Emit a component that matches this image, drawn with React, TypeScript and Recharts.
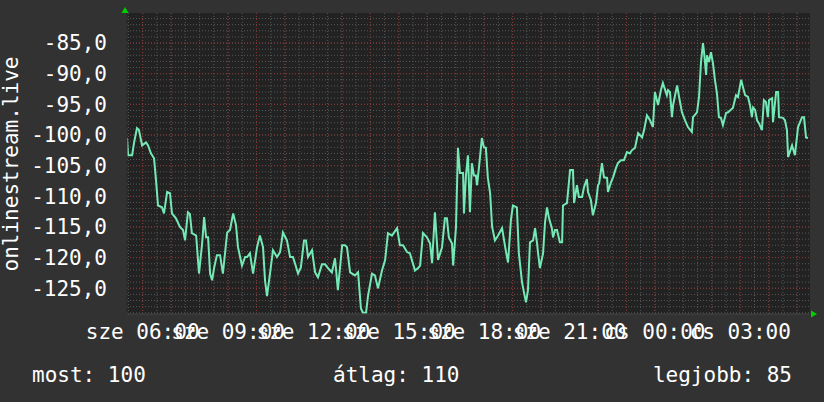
import { LineChart, Line, XAxis, YAxis, CartesianGrid } from "recharts";

// signal level over ~24h (hours from midnight of day 1, >24 = next day)
const hours = [
  5.45, 5.49, 5.63, 5.70, 5.80, 5.87, 5.98, 6.12, 6.19, 6.29,
  6.40, 6.47, 6.54, 6.68, 6.75, 6.86, 6.96, 7.03, 7.17, 7.31,
  7.42, 7.49, 7.59, 7.66, 7.73, 7.88, 7.98, 8.09, 8.16, 8.23,
  8.30, 8.37, 8.44, 8.51, 8.61, 8.72, 8.82, 8.97, 9.07, 9.18,
  9.28, 9.35, 9.49, 9.60, 9.67, 9.77, 9.88, 10.02, 10.12, 10.23,
  10.30, 10.37, 10.48, 10.58, 10.72, 10.83, 10.93, 11.07, 11.18, 11.28,
  11.35, 11.46, 11.56, 11.67, 11.74, 11.81, 11.95, 12.06, 12.16, 12.30,
  12.41, 12.51, 12.65, 12.76, 12.86, 13.01, 13.11, 13.18, 13.29, 13.46,
  13.57, 13.67, 13.74, 13.85, 13.92, 14.06, 14.16, 14.27, 14.41, 14.52,
  14.62, 14.76, 14.94, 15.04, 15.15, 15.29, 15.39, 15.57, 15.68, 15.75,
  15.85, 15.99, 16.10, 16.17, 16.27, 16.38, 16.52, 16.62, 16.69, 16.76,
  16.87, 16.91, 17.01, 17.08, 17.15, 17.26, 17.29, 17.36, 17.43, 17.50,
  17.57, 17.64, 17.71, 17.75, 17.82, 17.92, 17.99, 18.06, 18.13, 18.21,
  18.28, 18.38, 18.49, 18.63, 18.70, 18.77, 18.84, 18.94, 19.01, 19.15,
  19.22, 19.33, 19.40, 19.47, 19.54, 19.61, 19.72, 19.79, 19.86, 19.89,
  19.96, 20.07, 20.14, 20.21, 20.28, 20.38, 20.42, 20.49, 20.56, 20.66,
  20.74, 20.77, 20.91, 21.02, 21.12, 21.16, 21.26, 21.33, 21.44, 21.51,
  21.61, 21.65, 21.75, 21.82, 21.93, 22.00, 22.04, 22.14, 22.21, 22.32,
  22.35, 22.46, 22.53, 22.63, 22.70, 22.81, 22.91, 23.02, 23.12, 23.19,
  23.30, 23.41, 23.55, 23.62, 23.72, 23.83, 23.93, 24.00, 24.11, 24.21,
  24.28, 24.42, 24.46, 24.53, 24.60, 24.64, 24.78, 24.85, 24.95, 25.06,
  25.16, 25.30, 25.34, 25.48, 25.55, 25.62, 25.69, 25.73, 25.80, 25.83,
  25.90, 25.97, 26.04, 26.11, 26.18, 26.25, 26.32, 26.39, 26.50, 26.57,
  26.67, 26.74, 26.85, 26.92, 27.03, 27.10, 27.17, 27.27, 27.34, 27.41,
  27.45, 27.52, 27.59, 27.66, 27.76, 27.83, 27.90, 27.97, 28.01, 28.12,
  28.15, 28.26, 28.33, 28.36, 28.50, 28.57, 28.64, 28.68, 28.82, 28.92,
  29.03, 29.17, 29.24, 29.31, 29.38,
];

const signal = [
  -100.5, -103.3, -103.3, -101.2, -98.9, -99.2, -101.7, -101.2, -101.7, -103.0,
  -103.8, -107.4, -111.5, -111.8, -112.8, -109.3, -109.5, -112.8, -113.6, -115.0,
  -115.5, -117.2, -112.6, -112.9, -116.0, -116.4, -122.6, -117.7, -113.4, -116.7,
  -116.7, -122.6, -123.7, -121.7, -119.6, -119.6, -122.6, -115.9, -115.5, -112.8,
  -114.7, -118.3, -121.3, -119.9, -119.9, -119.3, -122.6, -118.3, -116.4, -118.3,
  -123.7, -126.3, -122.4, -118.8, -119.9, -119.1, -115.9, -117.2, -119.9, -119.9,
  -120.9, -122.6, -121.6, -117.2, -117.2, -119.9, -118.8, -122.4, -123.2, -121.1,
  -121.1, -121.7, -122.4, -120.1, -125.3, -118.0, -118.0, -118.3, -122.4, -122.9,
  -122.4, -128.3, -129.0, -129.0, -126.2, -122.6, -122.9, -125.0, -122.1, -120.4,
  -116.0, -116.4, -115.2, -118.0, -118.0, -119.1, -119.3, -122.1, -121.7, -121.3,
  -116.0, -116.7, -117.7, -120.9, -112.6, -120.4, -118.3, -113.6, -113.6, -116.7,
  -117.7, -121.3, -115.0, -102.1, -106.2, -106.2, -112.8, -106.6, -103.3, -112.6,
  -104.6, -106.6, -106.6, -108.2, -105.2, -100.5, -102.0, -102.1, -107.0, -109.5,
  -115.0, -117.2, -116.4, -115.2, -117.2, -119.1, -120.8, -113.9, -111.5, -111.8,
  -119.3, -124.0, -125.7, -127.3, -125.3, -117.5, -117.2, -115.2, -117.7, -119.1,
  -121.7, -119.3, -114.2, -111.8, -113.6, -115.2, -116.7, -115.5, -115.5, -117.5,
  -117.5, -111.5, -111.1, -105.7, -105.7, -111.1, -108.2, -110.1, -110.1, -108.5,
  -107.2, -109.3, -110.6, -113.1, -111.1, -108.2, -107.9, -104.6, -106.9, -107.0,
  -109.3, -107.7, -106.9, -105.4, -104.6, -104.1, -104.1, -102.8, -103.0, -102.5,
  -102.1, -99.7, -100.4, -99.2, -96.8, -97.6, -98.7, -93.0, -95.1, -92.7,
  -91.5, -93.5, -92.7, -93.0, -97.1, -95.1, -91.9, -93.8, -96.3, -97.6,
  -98.7, -99.5, -97.1, -96.3, -93.8, -88.1, -85.0, -86.6, -90.2, -87.0,
  -88.1, -86.5, -88.3, -91.0, -93.2, -97.1, -97.2, -98.4, -96.4, -96.3,
  -95.9, -95.6, -93.5, -93.8, -91.0, -92.3, -93.5, -93.8, -95.1, -97.1,
  -95.5, -95.9, -97.6, -98.1, -99.2, -94.3, -94.6, -97.1, -94.3, -94.0,
  -97.9, -93.0, -93.0, -97.1, -97.2, -97.6, -99.2, -103.6, -101.7, -103.3,
  -98.7, -97.1, -97.1, -100.4, -100.5,
];

const timeTicks = [6, 9, 12, 15, 18, 21, 24, 27];
const levelTicks = [-125, -120, -115, -110, -105, -100, -95, -90, -85];
const legendItems = ["most: 100", "átlag: 110", "legjobb: 85"];

const data = hours.map((h, i) => ({ h, v: signal[i] }));

// grid positions: 1 unit / 30 min minor, 5 units / 1 h major
const minorLevels = Array.from({ length: 49 }, (_, i) => -129 + i);
const majorLevels = levelTicks;
const minorTimes = Array.from({ length: 48 }, (_, i) => 5.5 + i * 0.5);
const majorTimes = Array.from({ length: 24 }, (_, i) => 6 + i);

const FONT = "'DejaVu Sans Mono', monospace";

const fmtTime = (h: number) => {
  const day = h < 24 ? "sze" : "cs";
  return `${day} ${String(h % 24).padStart(2, "0")}:00`;
};
const fmtLevel = (v: number) => v.toFixed(1).replace(".", ",");

export default function App() {
  return (
    <div style={{ position: "absolute", left: 0, top: 0, width: 824, height: 402, background: "#323232" }}>
      <LineChart width={824} height={402} data={data} margin={{ top: 13, right: 14, bottom: 48, left: 27 }}>
        <CartesianGrid
          fill="#222222"
          fillOpacity={1}
          stroke="#575757"
          strokeDasharray="1 2"
          horizontalValues={minorLevels}
          verticalValues={minorTimes}
          syncWithTicks={false}
        />
        <CartesianGrid
          stroke="#8a3434"
          strokeDasharray="1 2"
          horizontalValues={majorLevels}
          verticalValues={majorTimes}
          syncWithTicks={false}
        />
        <XAxis
          dataKey="h"
          type="number"
          domain={[5.45, 29.45]}
          allowDataOverflow
          ticks={timeTicks}
          interval={0}
          tickFormatter={fmtTime}
          tickLine={false}
          tickSize={0}
          tickMargin={10}
          height={40}
          axisLine={{ stroke: "#454545" }}
          tick={{ fill: "#ffffff", fontSize: 21, fontFamily: FONT }}
        />
        <YAxis
          type="number"
          domain={[-129.2, -80.1]}
          allowDataOverflow
          ticks={levelTicks}
          interval={0}
          tickFormatter={fmtLevel}
          tickLine={false}
          tickSize={0}
          tickMargin={20}
          width={100}
          axisLine={{ stroke: "#2c2c2c" }}
          tick={{ fill: "#ffffff", fontSize: 21, fontFamily: FONT }}
        />
        <Line
          type="linear"
          dataKey="v"
          stroke="#74e9b5"
          strokeWidth={2}
          dot={false}
          isAnimationActive={false}
        />
      </LineChart>
      <svg
        width={824}
        height={402}
        style={{ position: "absolute", left: 0, top: 0, pointerEvents: "none" }}
      >
        <polygon points="121.5,13 128.5,13 125,7" fill="#00d000" />
        <polygon points="811,310.5 811,317.5 817,314" fill="#00d000" />
        <text
          x={18}
          y={164}
          transform="rotate(-90 18 164)"
          textAnchor="middle"
          fill="#ffffff"
          fontSize={21}
          fontFamily={FONT}
        >
          onlinestream.live
        </text>
        <text x={32} y={382} fill="#ffffff" fontSize={21} fontFamily={FONT}>{legendItems[0]}</text>
        <text x={333} y={382} fill="#ffffff" fontSize={21} fontFamily={FONT}>{legendItems[1]}</text>
        <text x={792} y={382} textAnchor="end" fill="#ffffff" fontSize={21} fontFamily={FONT}>{legendItems[2]}</text>
      </svg>
    </div>
  );
}
